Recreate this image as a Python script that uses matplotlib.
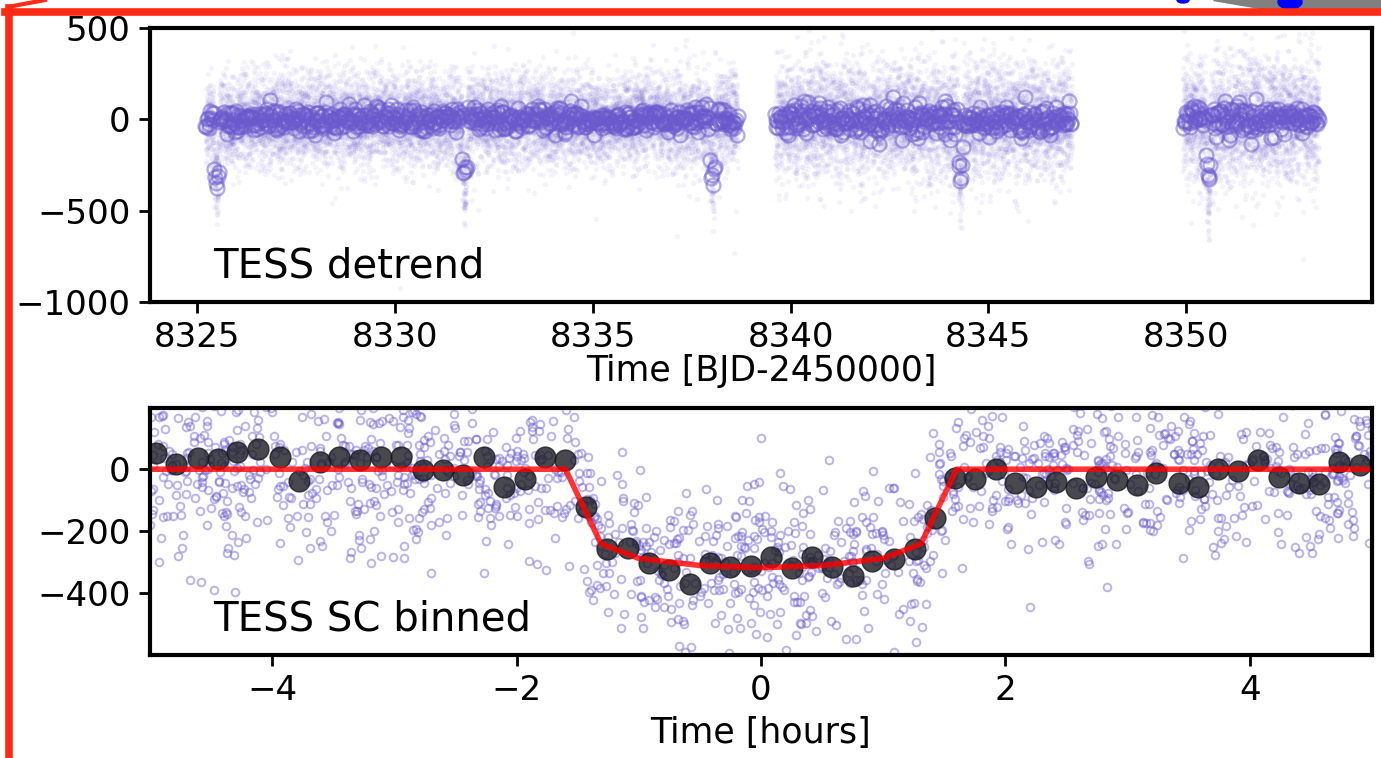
import numpy as np
import matplotlib
matplotlib.use('Agg')
import matplotlib.pyplot as plt
from matplotlib.patches import Polygon, Ellipse
from matplotlib.lines import Line2D

# ── top panel: light-curve layout ─────────────────────────────────────
SEG_START   = [8325.20, 8339.60, 8349.92]     # BJD-2450000
SEG_END     = [8338.66, 8347.12, 8353.36]
SEG_NOISE   = [125.0, 155.0, 170.0]           # scatter of the 2-min points
BIN_NOISE   = [34.0, 40.0, 46.0]              # scatter of the 30-min circles
TRANSIT_MID = [8325.48, 8331.75, 8338.02, 8344.29, 8350.56]

# ── bottom panel: binned points (hours, ppm) ──────────────────────────
BIN_X = [-4.95, -4.79, -4.61, -4.44, -4.29, -4.12, -3.94, -3.78, -3.61, -3.45,
         -3.28, -3.11, -2.95, -2.77, -2.60, -2.44, -2.27, -2.10, -1.93, -1.77,
         -1.60, -1.43, -1.26, -1.09, -0.92, -0.75, -0.58, -0.42, -0.25, -0.08,
          0.08,  0.25,  0.42,  0.58,  0.75,  0.91,  1.09,  1.26,  1.42,  1.59,
          1.75,  1.92,  2.08,  2.25,  2.41,  2.58,  2.74,  2.91,  3.08,  3.23,
          3.42,  3.58,  3.74,  3.90,  4.07,  4.24,  4.40,  4.57,  4.73,  4.90]
BIN_Y = [  52,   16,   35,   32,   55,   65,   39,  -39,   23,   39,
           29,   39,   39,   -3,   -3,  -19,   39,  -58,  -32,   39,
           29, -123, -258, -255, -303, -326, -368, -303, -316, -313,
         -284, -319, -284, -316, -345, -294, -290, -258, -158,  -29,
          -32,    0,  -45,  -58,  -42,  -61,  -26,  -35,  -52,  -13,
          -45,  -58,    0,   -6,   29,  -26,  -45,  -48,   23,   13]

# transit model vertices (hours, ppm)
MODEL_X = [-5.0, -1.60, -1.31, -1.0, -0.5, 0.0, 0.5, 1.0, 1.31, 1.60, 5.0]
MODEL_Y = [0, 0, -240, -287, -310, -317, -310, -287, -240, 0, 0]

PURPLE = 'slateblue'

rng = np.random.default_rng(7)


def model(hours):
    return np.interp(hours, MODEL_X, MODEL_Y)


def transit_signal(t):
    dt = np.min(np.abs(np.subtract.outer(t, TRANSIT_MID)), axis=1) * 24.0
    return model(dt)


# unbinned 2-min and 30-min circles, top panel
raw_t, raw_f, bin_t, bin_f = [], [], [], []
for s, e, sr, sb in zip(SEG_START, SEG_END, SEG_NOISE, BIN_NOISE):
    t = np.arange(s, e, 2.0 / 1440)
    f = transit_signal(t) + rng.normal(0, sr, t.size)
    out = rng.random(t.size) < 0.004
    f[out] -= np.abs(rng.normal(0, 350, out.sum()))
    raw_t.append(t); raw_f.append(f)
    tb = np.arange(s, e, 30.0 / 1440)
    bin_t.append(tb); bin_f.append(transit_signal(tb) + rng.normal(0, sb, tb.size))
raw_t = np.concatenate(raw_t); raw_f = np.concatenate(raw_f)
bin_t = np.concatenate(bin_t); bin_f = np.concatenate(bin_f)

# phase-folded points, bottom panel
fold_x = rng.uniform(-5, 5, 1450)
fold_y = model(fold_x) + rng.normal(0, 140, fold_x.size)

plt.rcParams['font.family'] = 'DejaVu Sans'
fig = plt.figure(figsize=(13.81, 7.58), dpi=100)

TICK_KW = dict(direction='out', length=8, width=2, labelsize=24.5, pad=6)

ax1 = fig.add_axes([150 / 1381, 1 - 302 / 758, 1222 / 1381, 274 / 758])
ax1.plot(raw_t, raw_f, 'o', color=PURPLE, ms=3.8, alpha=0.07, mec='none')
ax1.plot(bin_t, bin_f, 'o', mfc='none', mec=PURPLE, ms=10, mew=1.7, alpha=0.5)
ax1.set_xlim(8323.8, 8354.7)
ax1.set_ylim(-1000, 500)
ax1.set_xticks([8325, 8330, 8335, 8340, 8345, 8350])
ax1.set_yticks([-1000, -500, 0, 500])
ax1.set_xlabel('Time [BJD-2450000]', fontsize=25, labelpad=0)
ax1.text(0.052, 0.09, 'TESS detrend', transform=ax1.transAxes, fontsize=29)

ax2 = fig.add_axes([150 / 1381, 1 - 655 / 758, 1222 / 1381, 247 / 758])
ax2.plot(fold_x, fold_y, 'o', mfc='none', mec=PURPLE, ms=5.5, mew=1.4, alpha=0.45)
ax2.plot(BIN_X, BIN_Y, 'o', color='#1a1a22', ms=15, alpha=0.8)
ax2.plot(MODEL_X, MODEL_Y, '-', color='red', lw=4, alpha=0.8)
ax2.set_xlim(-5, 5)
ax2.set_ylim(-598, 197)
ax2.set_xticks([-4, -2, 0, 2, 4])
ax2.set_yticks([-400, -200, 0])
ax2.set_xlabel('Time [hours]', fontsize=25, labelpad=6)
ax2.text(0.052, 0.1, 'TESS SC binned', transform=ax2.transAxes, fontsize=29)

for ax in (ax1, ax2):
    ax.tick_params(**TICK_KW)
    for sp in ax.spines.values():
        sp.set_linewidth(3)

# red annotation frame and cropped bits from the surrounding screenshot
RED = '#ff2a14'
fig.add_artist(Line2D([8.5 / 1381, 8.5 / 1381], [0, 1 - 8 / 758], color=RED, lw=5.5))
fig.add_artist(Line2D([5 / 1381, 1], [1 - 11.5 / 758, 1 - 11.5 / 758], color=RED, lw=5.5))
fig.add_artist(Line2D([13 / 1381, 45 / 1381], [1 - 6 / 758, 1], color=RED, lw=3))
fig.add_artist(Polygon([[1213 / 1381, 1], [1381 / 1381, 1], [1381 / 1381, 1 - 8 / 758],
                        [1260 / 1381, 1 - 8 / 758]], closed=True,
                       color='#808080', transform=fig.transFigure))
fig.add_artist(Ellipse((1290 / 1381, 1 - 2 / 758), 24 / 1381, 14 / 758,
                       color='blue', transform=fig.transFigure))
fig.add_artist(Ellipse((1183 / 1381, 1), 12 / 1381, 6 / 758,
                       color='blue', transform=fig.transFigure))

fig.savefig('out.png', dpi=100)
